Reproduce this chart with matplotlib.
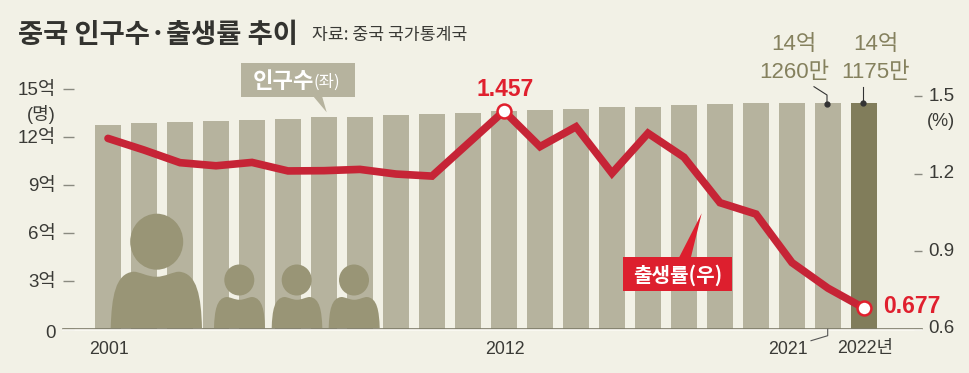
import matplotlib
matplotlib.use("Agg")
import matplotlib.pyplot as plt
from matplotlib.path import Path
from matplotlib.patches import PathPatch, Ellipse, Polygon, Rectangle
from matplotlib.transforms import ScaledTranslation

FN = ['Liberation Sans', 'Noto Sans CJK KR']
KR = ['Noto Sans CJK KR', 'DejaVu Sans']
plt.rcParams['font.family'] = FN

years = list(range(2001, 2023))
population = [12.72, 12.83, 12.91, 12.99, 13.05, 13.11, 13.20, 13.26, 13.33, 13.39, 13.47,
              13.59, 13.66, 13.76, 13.83, 13.83, 13.97, 14.03, 14.08, 14.10, 14.126, 14.1175]
birth_rate = [1.336, 1.291, 1.242, 1.230, 1.243, 1.210, 1.211, 1.216, 1.198, 1.190, 1.316,
              1.442, 1.304, 1.381, 1.201, 1.356, 1.263, 1.087, 1.043, 0.855, 0.756, 0.679]
left_ticks = [0, 3, 6, 9, 12, 15]
left_labels = ['0', '3억', '6억', '9억', '12억', '15억']
right_ticks = [0.6, 0.9, 1.2, 1.5]
right_labels = ['0.6', '0.9', '1.2', '1.5']

BG = '#f2f1e6'; BAR = '#b6b39e'; LAST = '#817d5b'; LINE = '#c62436'; RED = '#e0202e'
ICON = '#999576'; TXT = '#3a3a36'; OLIVE = '#85815e'

W, H = 970, 373
fig = plt.figure(figsize=(W/100, H/100), dpi=100, facecolor=BG)
L, R, B, T = 63, 921.7, 328.5, 88.7
ax = fig.add_axes([L/W, 1-B/H, (R-L)/W, (B-T)/H], facecolor='none')
ax.set_xlim(2001+(L-108)/36, 2001+(R-108)/36)
ax.set_ylim(0, 15)
ax.bar(years, population, width=0.72, color=[BAR]*21+[LAST], linewidth=0, zorder=2)
for s in ['top', 'left', 'right']:
    ax.spines[s].set_visible(False)
ax.spines['bottom'].set_color('#7d7b68'); ax.spines['bottom'].set_linewidth(1.2)
ax.spines['bottom'].set_zorder(3)
ax.set_xticks([])
ax.set_yticks(left_ticks, left_labels)
ax.tick_params(axis='y', direction='in', length=8, width=1, color='#8a8a80', pad=5, labelsize=13.5, labelcolor=TXT)
for lab, v in zip(ax.get_yticklabels(), left_ticks):
    if v == 0:
        lab.set_transform(lab.get_transform() + ScaledTranslation(0, -3/100, fig.dpi_scale_trans))

ax2 = ax.twinx()
ax2.set_ylim(0.6, 0.6+(B-T)/258.3)
for s in ax2.spines.values():
    s.set_visible(False)
ax2.set_yticks(right_ticks, right_labels)
ax2.tick_params(axis='y', direction='in', length=5.5, width=1, color='#8a8a80', pad=5, labelsize=13.5, labelcolor=TXT)
for lab in ax2.get_yticklabels():
    lab.set_transform(lab.get_transform() + ScaledTranslation(0, 2/100, fig.dpi_scale_trans))
ax2.plot(years, birth_rate, color=LINE, lw=5.5, solid_joinstyle='miter', solid_capstyle='round', zorder=5)
ax2.plot([years[11], years[-1]], [birth_rate[11], birth_rate[-1]], ls='none', marker='o', ms=10,
         mfc='white', mec=RED, mew=1.8, zorder=6)

# pixel-space overlay for annotations
px = fig.add_axes([0, 0, 1, 1], facecolor='none')
px.set_xlim(0, W); px.set_ylim(H, 0); px.axis('off')
px.plot([L, R], [330.2, 330.2], color='#fbfaf4', lw=1.2, zorder=1)

def body(x0, x1, top, bottom=328.0):
    w = x1-x0; h = bottom-top; c = (x0+x1)/2
    verts = [(x0, bottom),
             (x0+.01*w, top+.45*h), (x0+.05*w, top+.03*h), (x0+.25*w, top),
             (x0+.32*w, top), (c-.10*w, top+.09*h), (c, top+.09*h),
             (c+.10*w, top+.09*h), (x1-.32*w, top), (x1-.25*w, top),
             (x1-.05*w, top+.03*h), (x1-.01*w, top+.45*h), (x1, bottom),
             (x0, bottom)]
    codes = [Path.MOVETO]+[Path.CURVE4]*12+[Path.CLOSEPOLY]
    px.add_patch(PathPatch(Path(verts, codes), fc=ICON, ec='none', zorder=3))

px.add_patch(Ellipse((156.7, 241.7), 53, 56, fc=ICON, ec='none', zorder=3))
body(110.7, 202, 271.7)
for cx, x0, x1 in [(239.3, 214, 265), (296.7, 271.7, 322.3), (354, 328.7, 379.7)]:
    px.add_patch(Ellipse((cx, 280), 30, 31, fc=ICON, ec='none', zorder=3))
    body(x0, x1, 297)

# callouts
px.add_patch(Rectangle((241.3, 62.7), 113.7, 34.3, fc=BAR, ec='none', zorder=4))
px.add_patch(Polygon([(313, 96), (322, 96), (326.7, 112.3)], fc=BAR, ec='none', zorder=4))
px.text(253, 81.5, '인구수', family=KR, fontsize=16, fontweight='bold', color='white', va='center', ha='left', zorder=5)
px.text(314, 82, '(좌)', family=KR, fontsize=12, color='white', va='center', ha='left', zorder=5)
px.add_patch(Rectangle((623.3, 256.7), 108.7, 34.3, fc='#dd1f2e', ec='none', zorder=4))
px.add_patch(Polygon([(679.3, 257), (691, 257), (701.7, 213.3)], fc='#dd1f2e', ec='none', zorder=4))
px.text(678, 275, '출생률(우)', family=KR, fontsize=14.5, fontweight='bold', color='white', va='center', ha='center', zorder=5)

# titles
px.text(18, 35, '중국 인구수·출생률 추이', family=KR, fontsize=19.7, fontweight='bold', color='#33332f', va='center', ha='left')
px.text(312, 35, '자료: 중국 국가통계국', family=KR, fontsize=12.4, color=TXT, va='center', ha='left')

# value labels
px.text(505, 89, '1.457', fontsize=16.5, color=RED, va='center', ha='center', fontweight='bold')
px.text(883, 306.5, '0.677', fontsize=16.5, color=RED, va='center', ha='left', fontweight='bold')
for cx, a, b in [(794, '14억', '1260만'), (876, '14억', '1175만')]:
    px.text(cx, 45, a, fontsize=16, color=OLIVE, va='center', ha='center')
    px.text(cx, 73, b, fontsize=16, color=OLIVE, va='center', ha='center')
px.text(41, 114, '(명)', fontsize=13, color=TXT, va='center', ha='center')
px.text(941, 121.7, '(%)', fontsize=13, color=TXT, va='center', ha='center')

# leaders
px.plot([827, 827, 814], [103.7, 95, 86.7], color='#333', lw=0.8)
px.plot([827], [103.7], 'o', color='#333', ms=3.5)
px.plot([862.7, 862.7], [103, 86.7], color='#333', lw=0.8)
px.plot([862.7], [103], 'o', color='#333', ms=3.5)
px.plot([827.7, 827.7, 811], [329.3, 335.7, 340.7], color='#555', lw=0.8)

# x labels
for cx, s in [(109.3, '2001'), (504.5, '2012'), (788, '2021'), (865, '2022년')]:
    px.text(cx, 349, s, fontsize=12.8, color=TXT, va='center', ha='center')

fig.savefig('out.png', dpi=100, facecolor=BG)
